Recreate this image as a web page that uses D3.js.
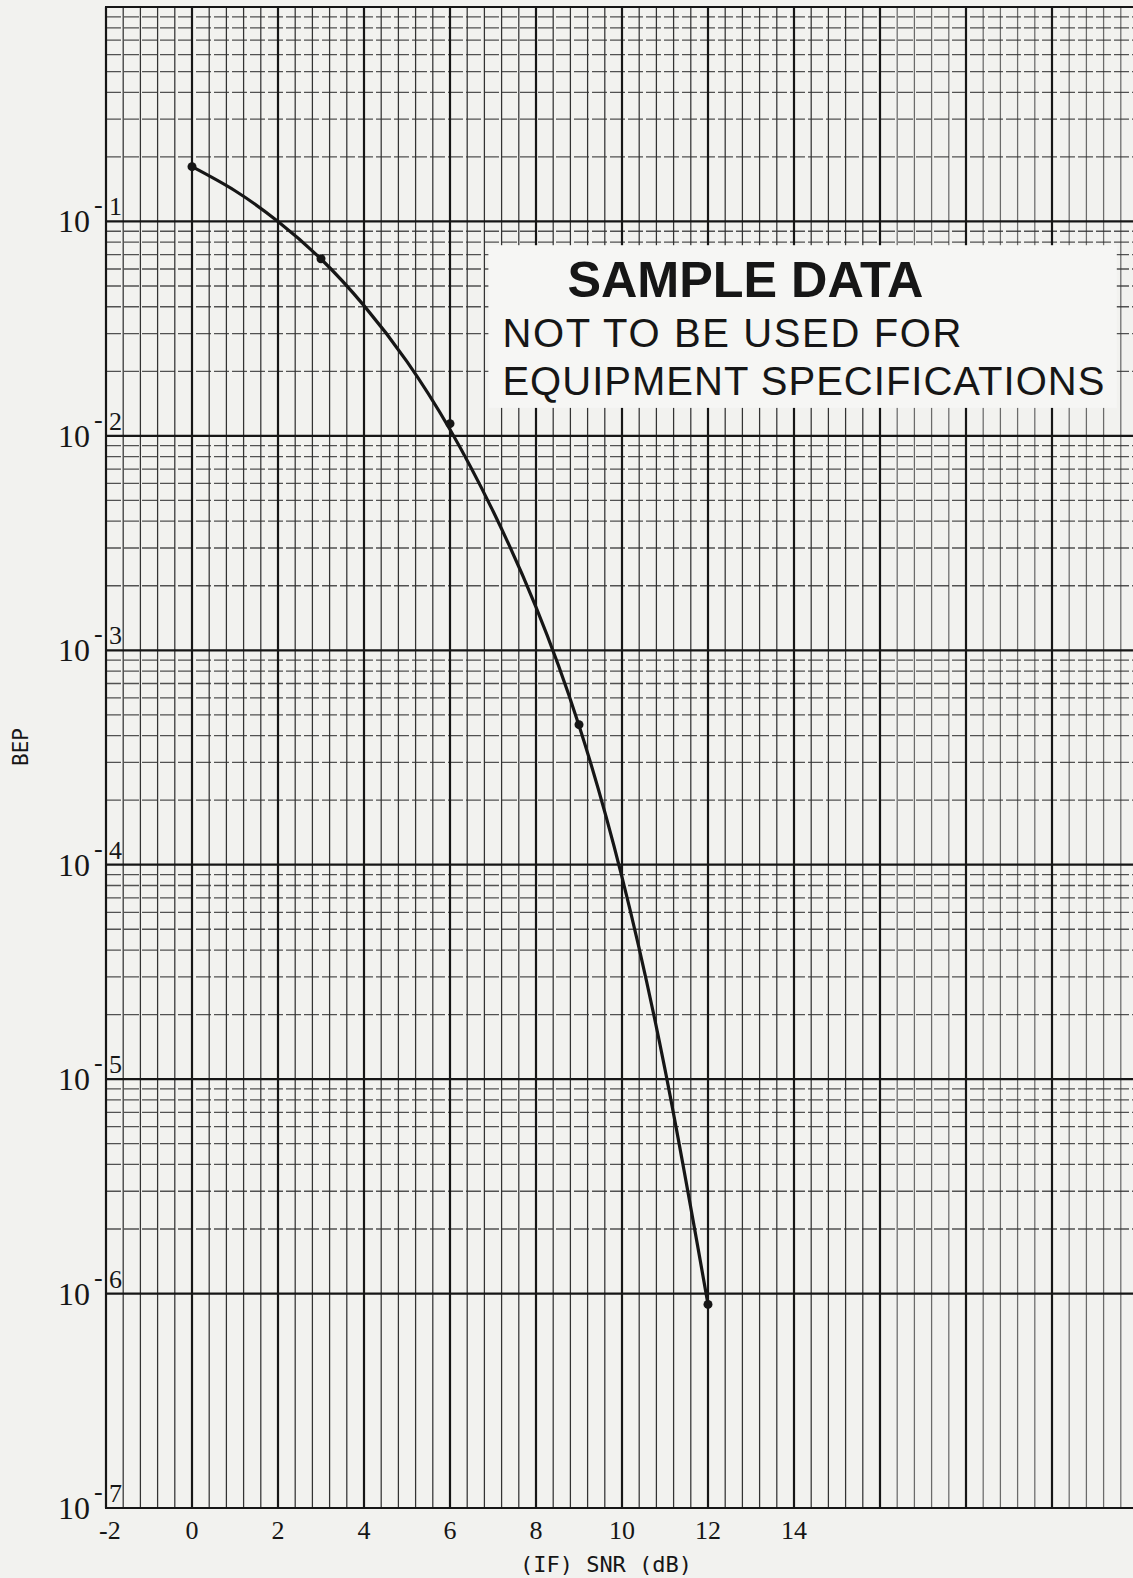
<!DOCTYPE html>
<meta charset="utf-8">
<style>
  body { margin: 0; background: #f2f2ef; }
  svg { display: block; }
</style>
<script src="https://d3js.org/d3.v7.min.js"></script>
<div id="chart"></div>
<script>
// values
var snrTicks = [-2, 0, 2, 4, 6, 8, 10, 12, 14];
var bepExponents = [-1, -2, -3, -4, -5, -6, -7];
var markerSnr = [0, 3, 6, 9, 12];
var markerBep = [0.18, 0.067, 0.0114, 0.00045, 0.00000089];
var curveSnr = [0, 1, 2, 3, 4, 5, 6, 7, 8, 9, 10, 11, 12];
var curveBep = [0.18, 0.139, 0.1, 0.0668, 0.0405, 0.0222, 0.0107, 0.00446, 0.00159,
                0.000446, 0.0000876, 0.0000111, 0.00000089];
var noteLines = ["SAMPLE DATA", "NOT TO BE USED FOR", "EQUIPMENT SPECIFICATIONS"];
var xTitle = "(IF) SNR (dB)";
var yTitle = "BEP";

var width = 1133, height = 1578;

var svg = d3.select("#chart")
  .append("svg")
    .attr("width", width)
    .attr("height", height);

// scales: 0.4 dB per small square, one decade per cycle
var x = d3.scaleLinear().domain([-2, 22]).range([106, 1138]);
var y = d3.scaleLog().domain([1, 1e-7]).range([7, 1508]);

var ink = "#161616";

// horizontal grid (2..9 in each decade)
var hMinor = [];
for (var e = -1; e >= -7; e--) {
  for (var m = 2; m <= 9; m++) {
    if (e < -6) continue;
    hMinor.push(m * Math.pow(10, e));
  }
}
var grid = svg.append("g");
grid.selectAll(".hminor")
  .data(hMinor)
  .enter().append("line")
    .attr("x1", x(-2)).attr("x2", width)
    .attr("y1", function(d) { return y(d); })
    .attr("y2", function(d) { return y(d); })
    .attr("stroke", "#2b2b2b")
    .attr("stroke-width", 1.3)
    .attr("stroke-dasharray", "15 3")
    .attr("opacity", 0.8);

// vertical grid, bold every 2 dB
var vVals = d3.range(61).map(function(i) { return -2 + i * 0.4; });
grid.selectAll(".v")
  .data(vVals)
  .enter().append("line")
    .attr("x1", function(d) { return x(d); })
    .attr("x2", function(d) { return x(d); })
    .attr("y1", y(1)).attr("y2", y(1e-7))
    .attr("stroke", function(d, i) { return i % 5 === 0 ? ink : "#333"; })
    .attr("stroke-width", function(d, i) { return i % 5 === 0 ? 2.2 : 1.25; })
    .attr("opacity", function(d, i) { return (i % 5 !== 0 && d > 16) ? 0.7 : 1; });

// decade lines
grid.selectAll(".hmajor")
  .data([1].concat(bepExponents.map(function(k) { return Math.pow(10, k); })))
  .enter().append("line")
    .attr("x1", x(-2) - 1).attr("x2", width)
    .attr("y1", function(d) { return y(d); })
    .attr("y2", function(d) { return y(d); })
    .attr("stroke", ink)
    .attr("stroke-width", 2.2);

// pasted label covering the grid
var boxL = x(6.8), boxR = x(21.6), boxT = y(0.08), boxB = y(0.0135);
svg.append("rect")
  .attr("x", boxL + 4).attr("y", boxT + 3)
  .attr("width", boxR - boxL - 8).attr("height", boxB - boxT - 3)
  .attr("fill", "#f6f6f4");

var note = svg.append("g").attr("fill", ink).attr("font-family", "Liberation Sans, Arial, sans-serif");
note.append("text")
  .attr("x", boxL + 83).attr("y", 297)
  .attr("font-size", 50).attr("font-weight", "bold")
  .attr("textLength", 356).attr("lengthAdjust", "spacingAndGlyphs")
  .text(noteLines[0]);
note.append("text")
  .attr("x", boxL + 18).attr("y", 347)
  .attr("font-size", 40)
  .attr("textLength", 459).attr("lengthAdjust", "spacing")
  .text(noteLines[1]);
note.append("text")
  .attr("x", boxL + 18).attr("y", 395)
  .attr("font-size", 40)
  .attr("textLength", 602).attr("lengthAdjust", "spacing")
  .text(noteLines[2]);

// curve and plotted points
var curve = curveSnr.map(function(s, i) { return {s: s, b: curveBep[i]}; });
svg.append("path")
  .datum(curve)
  .attr("fill", "none")
  .attr("stroke", ink)
  .attr("stroke-width", 3.2)
  .attr("d", d3.line()
    .x(function(d) { return x(d.s); })
    .y(function(d) { return y(d.b); })
    .curve(d3.curveNatural));

svg.selectAll(".pt")
  .data(markerSnr.map(function(s, i) { return {s: s, b: markerBep[i]}; }))
  .enter().append("circle")
    .attr("cx", function(d) { return x(d.s); })
    .attr("cy", function(d) { return y(d.b); })
    .attr("r", 4.5)
    .attr("fill", ink);

// y labels: 10 with typed exponent
var yl = svg.append("g").attr("fill", ink).attr("font-family", "Liberation Serif, Times New Roman, serif");
bepExponents.forEach(function(k) {
  var py = y(Math.pow(10, k));
  yl.append("text").attr("x", 90).attr("y", py + 11).attr("text-anchor", "end")
    .attr("font-size", 32).text("10");
  yl.append("text").attr("x", 94).attr("y", py - 8)
    .attr("font-size", 26).text("-");
  yl.append("text").attr("x", 109).attr("y", py - 6)
    .attr("font-size", 26).text(String(-k));
});

// x labels
svg.append("g").attr("fill", ink).attr("font-family", "Liberation Serif, Times New Roman, serif")
  .selectAll("text")
  .data(snrTicks)
  .enter().append("text")
    .attr("x", function(d, i) { return i === 0 ? x(d) - 7 : x(d); })
    .attr("y", 1539)
    .attr("text-anchor", function(d, i) { return i === 0 ? "start" : "middle"; })
    .attr("font-size", 26)
    .text(function(d) { return d; });

// axis titles (typewriter gothic)
svg.append("text")
  .attr("x", 606).attr("y", 1572)
  .attr("text-anchor", "middle")
  .attr("font-family", "DejaVu Sans Mono, monospace")
  .attr("font-size", 22)
  .attr("fill", ink)
  .text(xTitle);

svg.append("text")
  .attr("transform", "translate(28,747) rotate(-90)")
  .attr("text-anchor", "middle")
  .attr("font-family", "DejaVu Sans Mono, monospace")
  .attr("font-size", 21)
  .attr("fill", ink)
  .text(yTitle);
</script>
